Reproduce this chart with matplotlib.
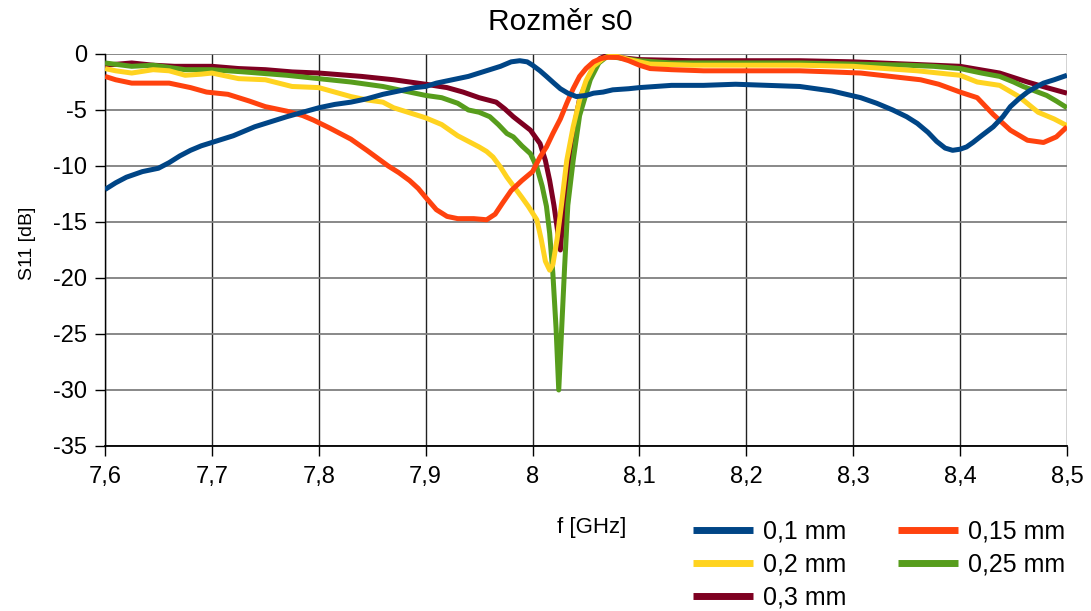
import matplotlib
matplotlib.use("Agg")
import matplotlib.pyplot as plt
from matplotlib.ticker import FuncFormatter, MultipleLocator

plt.rcParams['font.family'] = ['Liberation Sans', 'DejaVu Sans']

title = "Rozměr s0"
xlabel = "f [GHz]"
ylabel = "S11 [dB]"

labels = ["0,1 mm", "0,15 mm", "0,2 mm", "0,25 mm", "0,3 mm"]
colors = ["#004586", "#ff420e", "#ffd320", "#579d1c", "#7e0021"]

f_01 = [7.60, 7.61, 7.62, 7.635, 7.65, 7.66, 7.67, 7.68, 7.69, 7.70, 7.71, 7.72, 7.73, 7.74,
        7.75, 7.76, 7.77, 7.785, 7.80, 7.815, 7.83, 7.845, 7.86, 7.87, 7.88, 7.89, 7.90, 7.91,
        7.925, 7.94, 7.95, 7.96, 7.97, 7.98, 7.988, 7.995, 8.00, 8.007, 8.013, 8.02, 8.026,
        8.033, 8.041, 8.05, 8.057, 8.066, 8.075, 8.09, 8.10, 8.115, 8.13, 8.16, 8.19, 8.22,
        8.25, 8.28, 8.307, 8.322, 8.337, 8.35, 8.36, 8.37, 8.378, 8.386, 8.393, 8.40, 8.406,
        8.412, 8.42, 8.431, 8.44, 8.447, 8.455, 8.463, 8.47, 8.478, 8.488, 8.50]
s_01 = [-12.1, -11.5, -11.0, -10.5, -10.2, -9.7, -9.1, -8.6, -8.2, -7.9, -7.6, -7.3, -6.9, -6.5,
        -6.2, -5.9, -5.6, -5.2, -4.8, -4.5, -4.3, -4.0, -3.6, -3.4, -3.2, -3.0, -2.9, -2.6,
        -2.3, -2.0, -1.7, -1.4, -1.1, -0.7, -0.6, -0.7, -1.0, -1.5, -2.0, -2.6, -3.1,
        -3.5, -3.8, -3.7, -3.5, -3.4, -3.2, -3.1, -3.0, -2.9, -2.8, -2.8, -2.7, -2.8,
        -2.9, -3.3, -3.9, -4.4, -5.0, -5.6, -6.2, -7.0, -7.8, -8.4, -8.6, -8.5, -8.3,
        -7.9, -7.3, -6.5, -5.6, -4.7, -4.0, -3.4, -3.0, -2.6, -2.3, -1.9]

f_015 = [7.60, 7.61, 7.625, 7.645, 7.66, 7.67, 7.68, 7.695, 7.715, 7.725, 7.735, 7.75, 7.76,
         7.77, 7.785, 7.795, 7.81, 7.82, 7.83, 7.845, 7.855, 7.865, 7.875, 7.885, 7.893, 7.90,
         7.91, 7.92, 7.93, 7.945, 7.957, 7.965, 7.972, 7.98, 7.99, 8.00, 8.007, 8.013, 8.019,
         8.026, 8.032, 8.038, 8.044, 8.05, 8.057, 8.064, 8.07, 8.08, 8.09, 8.10, 8.11, 8.13,
         8.16, 8.20, 8.25, 8.28, 8.307, 8.335, 8.363, 8.38, 8.40, 8.416, 8.431, 8.447, 8.463,
         8.478, 8.49, 8.50]
s_015 = [-2.0, -2.3, -2.6, -2.6, -2.6, -2.8, -3.0, -3.4, -3.6, -3.9, -4.2, -4.7, -4.9,
         -5.1, -5.5, -5.9, -6.6, -7.1, -7.6, -8.6, -9.3, -10.0, -10.6, -11.3, -12.0, -12.8,
         -13.9, -14.5, -14.7, -14.7, -14.8, -14.3, -13.3, -12.2, -11.3, -10.5, -9.2, -8.3, -7.1,
         -5.8, -4.4, -3.1, -2.0, -1.3, -0.7, -0.4, -0.3, -0.3, -0.6, -1.0, -1.3, -1.4,
         -1.5, -1.5, -1.5, -1.6, -1.7, -2.0, -2.3, -2.7, -3.4, -3.9, -5.4, -6.8, -7.7,
         -7.9, -7.4, -6.5]

f_02 = [7.60, 7.61, 7.625, 7.645, 7.66, 7.675, 7.69, 7.70, 7.725, 7.75, 7.775, 7.80, 7.815,
        7.83, 7.845, 7.86, 7.87, 7.88, 7.89, 7.90, 7.915, 7.93, 7.94, 7.95, 7.957, 7.963,
        7.97, 7.976, 7.983, 7.99, 7.996, 8.00, 8.004, 8.008, 8.012, 8.016, 8.019, 8.023,
        8.027, 8.032, 8.038, 8.044, 8.05, 8.057, 8.066, 8.075, 8.09, 8.11, 8.15, 8.20, 8.25,
        8.30, 8.33, 8.36, 8.38, 8.40, 8.416, 8.437, 8.455, 8.473, 8.488, 8.50]
s_02 = [-1.3, -1.5, -1.7, -1.4, -1.5, -1.9, -1.8, -1.7, -2.2, -2.3, -2.9, -3.0, -3.4,
        -3.8, -4.1, -4.3, -4.8, -5.1, -5.4, -5.7, -6.3, -7.3, -7.8, -8.3, -8.7, -9.2,
        -10.1, -11.0, -11.9, -12.8, -13.6, -14.2, -14.8, -16.5, -18.5, -19.3, -18.8, -16.5,
        -13.5, -9.5, -6.5, -4.1, -2.4, -1.1, -0.4, -0.1, -0.5, -0.9, -1.0, -1.0, -1.0,
        -1.1, -1.3, -1.5, -1.7, -1.9, -2.5, -2.8, -3.8, -5.2, -5.8, -6.4]

f_025 = [7.60, 7.625, 7.645, 7.66, 7.675, 7.70, 7.73, 7.77, 7.80, 7.83, 7.86, 7.88, 7.90,
         7.915, 7.93, 7.94, 7.95, 7.96, 7.968, 7.976, 7.982, 7.99, 7.998, 8.004, 8.009, 8.013,
         8.016, 8.019, 8.022, 8.0245, 8.027, 8.030, 8.033, 8.038, 8.044, 8.054, 8.062, 8.07,
         8.085, 8.10, 8.13, 8.20, 8.25, 8.30, 8.35, 8.375, 8.40, 8.42, 8.437, 8.45, 8.459,
         8.47, 8.481, 8.49, 8.50]
s_025 = [-0.8, -1.1, -1.0, -1.2, -1.4, -1.4, -1.6, -1.9, -2.2, -2.5, -2.9, -3.3, -3.7,
         -3.9, -4.4, -5.0, -5.2, -5.6, -6.3, -7.1, -7.4, -8.2, -8.9, -10.1, -11.8, -13.6,
         -16.0, -19.6, -24.5, -30.0, -25.0, -19.0, -13.5, -9.5, -5.5, -2.3, -0.8, -0.2,
         -0.4, -0.6, -0.8, -0.8, -0.8, -0.9, -1.0, -1.1, -1.3, -1.7, -2.0, -2.5, -2.9,
         -3.3, -3.7, -4.2, -4.8]

f_03 = [7.60, 7.625, 7.645, 7.665, 7.70, 7.725, 7.75, 7.775, 7.80, 7.84, 7.87, 7.90, 7.92,
        7.935, 7.95, 7.966, 7.974, 7.982, 7.99, 7.998, 8.007, 8.012, 8.016, 8.02, 8.023,
        8.026, 8.03, 8.036, 8.044, 8.054, 8.063, 8.07, 8.08, 8.10, 8.15, 8.20, 8.25, 8.30,
        8.35, 8.40, 8.437, 8.45, 8.463, 8.481, 8.50]
s_03 = [-1.0, -0.8, -1.0, -1.1, -1.1, -1.3, -1.4, -1.6, -1.7, -2.0, -2.3, -2.7, -3.0,
        -3.4, -3.9, -4.3, -4.9, -5.6, -6.2, -6.8, -8.0, -9.5, -11.3, -13.5, -15.5,
        -17.5, -13.0, -8.0, -4.0, -1.8, -0.4, -0.1, -0.3, -0.5, -0.6, -0.6, -0.6, -0.7,
        -0.9, -1.1, -1.7, -2.1, -2.5, -3.0, -3.5]

xs = [f_01, f_015, f_02, f_025, f_03]
ys = [s_01, s_015, s_02, s_025, s_03]

fig = plt.figure(figsize=(10.91, 6.11), dpi=100)
ax = fig.add_axes([105 / 1091, 1 - 446 / 611, (1067 - 105) / 1091, (446 - 54) / 611])

lines = []
for i, (x, y, c, lab) in enumerate(zip(xs, ys, colors, labels)):
    ln, = ax.plot(x, y, color=c, lw=3.6, label=lab, zorder=10 - i,
                  solid_joinstyle='round', solid_capstyle='butt')
    lines.append(ln)

ax.set_xlim(7.6, 8.5)
ax.set_ylim(-35, 0)
ax.xaxis.set_major_locator(MultipleLocator(0.1))
ax.yaxis.set_major_locator(MultipleLocator(5))
fmt = FuncFormatter(lambda v, p: ('%g' % round(v, 2)).replace('.', ','))
ax.xaxis.set_major_formatter(fmt)
ax.yaxis.set_major_formatter(fmt)

ax.grid(axis='y', color='#7f7f7f', lw=1.3, zorder=0)
ax.grid(axis='x', color='#222222', lw=1.0, zorder=0)
ax.set_axisbelow(True)
for s in ['top', 'right']:
    ax.spines[s].set_visible(False)
ax.spines['left'].set_color('black')
ax.spines['bottom'].set_color('black')
ax.spines['left'].set_linewidth(1.0)
ax.spines['bottom'].set_linewidth(1.3)
ax.tick_params(axis='both', length=7.5, width=1.0, labelsize=17, direction='out')
ax.tick_params(axis='x', pad=7)
ax.tick_params(axis='y', pad=5.5)

fig.text(560 / 1091, 1 - 30 / 611, title, fontsize=21.5, ha='center', va='baseline')
fig.text(592 / 1091, 1 - 527 / 611, xlabel, fontsize=16, ha='center', va='center')
fig.text(28 / 1091, 1 - 243 / 611, ylabel, fontsize=14, ha='center', va='center',
         rotation=90)

order = [0, 2, 4, 1, 3]
leg = fig.legend([lines[i] for i in order], [labels[i] for i in order],
                 loc='upper left', bbox_to_anchor=(0.635, 0.150), ncol=2, frameon=False,
                 fontsize=18, handlelength=2.4, handletextpad=0.4, columnspacing=2.06,
                 labelspacing=0.37, borderpad=0, borderaxespad=0)
for h in leg.get_lines():
    h.set_linewidth(5)

fig.savefig("out.png", dpi=100)
